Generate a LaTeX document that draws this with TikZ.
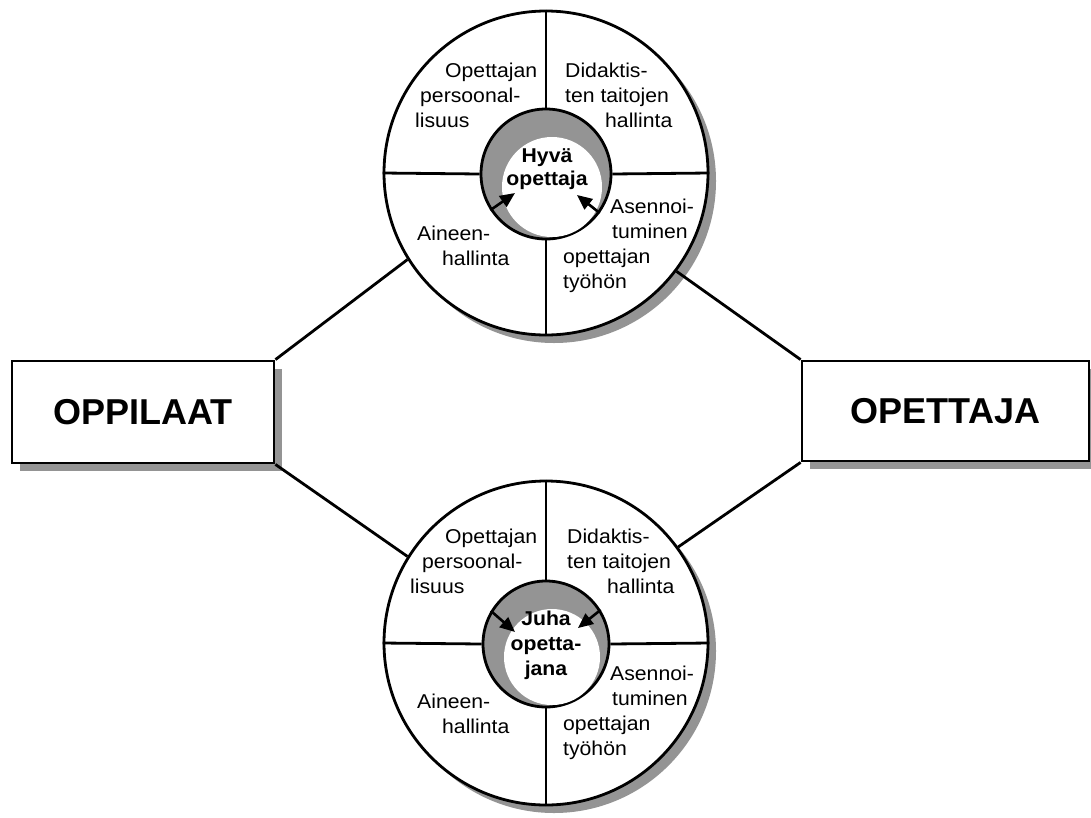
\documentclass[tikz,border=0pt]{standalone}
\usepackage{fontspec}
\setmainfont{Liberation Sans}
\newfontfamily\lblfont[FakeStretch=1.06]{Liberation Sans}
\usetikzlibrary{arrows.meta,shadows,calc}
\tikzset{
  outline/.style={draw=black, line width=2.8pt},
  shade gray/.style={drop shadow={shadow xshift=8pt, shadow yshift=-8pt, opacity=1, fill=black!42}},
  boxnode/.style={outline, fill=white, inner sep=0pt, shade gray,
    font=\fontsize{36}{40}\selectfont\bfseries},
  ring/.style={circle, outline, fill=white, inner sep=0pt, minimum size=324pt, shade gray},
  hub/.style={circle, outline, fill=black!42, inner sep=0pt},
  hubwhite/.style={fill=white},
  lbl/.style={inner sep=0pt, anchor=north west, align=left,
    font=\lblfont\fontsize{20}{25}\selectfont},
  ctr/.style={inner sep=0pt, anchor=north, align=center,
    font=\lblfont\bfseries\fontsize{20}{23}\selectfont},
  arr/.style={line width=2.6pt, -{Triangle[length=15pt,width=13pt]}},
  link/.style={line width=2.8pt},
}
\begin{document}
\begin{tikzpicture}[x=1pt,y=-1pt]
\useasboundingbox (0,0) rectangle (1091,817);
\fill[white] (0,0) rectangle (1091,817);

% boxes
\node[boxnode, minimum width=262pt, minimum height=102pt] (oppilaat) at (143,412) {OPPILAAT};
\node[boxnode, minimum width=287pt, minimum height=100pt] (opettaja) at (945.5,411) {OPETTAJA};

% top circle
\node[ring] (topc) at (546,173) {};
\node[hub, minimum size=130pt] (topi) at (546,174) {};
\fill[hubwhite] ($(topi.center)+(6,13)$) circle (50pt);
\draw[link] (topc.north) -- (topi.north);
\draw[link] (topc.south) -- (topi.south);
\draw[link] (topc.west) -- (topi.west);
\draw[link] (topc.east) -- (topi.east);

% bottom circle
\node[ring] (botc) at (546,643) {};
\node[hub, minimum size=126pt] (boti) at (546,644) {};
\fill[hubwhite] ($(boti.center)+(6,13)$) circle (48pt);
\draw[link] (botc.north) -- (boti.north);
\draw[link] (botc.south) -- (boti.south);
\draw[link] (botc.west) -- (boti.west);
\draw[link] (botc.east) -- (boti.east);

% connectors
\draw[link] (oppilaat.north east) -- (topc.212.8);
\draw[link] (opettaja.north west) -- (topc.323.2);
\draw[link] (oppilaat.south east) -- (botc.148.7);
\draw[link] (opettaja.south west) -- (botc.36.2);

% top circle texts
\node[lbl] (t-ul) at (415,63) {\hspace*{30pt}Opettajan\\\hspace*{5pt}persoonal-\\lisuus};
\node[lbl] (t-ur) at (565,63) {Didaktis-\\ten taitojen\\\hspace*{40pt}hallinta};
\node[lbl] (t-ll) at (417,226) {Aineen-\\\hspace*{25pt}hallinta};
\node[lbl] (t-lr) at (563,199) {\hspace*{47pt}Asennoi-\\\hspace*{49pt}tuminen\\opettajan\\työhön};
\node[ctr] (t-c) at (547,148) {Hyvä\\opettaja};

% bottom circle texts
\node[lbl] (b-ul) at (410,529) {\hspace*{35pt}Opettajan\\\hspace*{12pt}persoonal-\\lisuus};
\node[lbl] (b-ur) at (567,529) {Didaktis-\\ten taitojen\\\hspace*{40pt}hallinta};
\node[lbl] (b-ll) at (417,694) {Aineen-\\\hspace*{25pt}hallinta};
\node[lbl] (b-lr) at (563,666) {\hspace*{47pt}Asennoi-\\\hspace*{49pt}tuminen\\opettajan\\työhön};
\node[ctr, font=\lblfont\bfseries\fontsize{20}{25}\selectfont] (b-c) at (546,611) {Juha\\opetta-\\jana};

% arrows
\coordinate (tl-tip) at (515,193);
\coordinate (tr-tip) at (577,195);
\coordinate (bl-tip) at (515,632);
\coordinate (br-tip) at (578,628);
\draw[arr] (topi.213) -- (tl-tip);
\draw[arr] (topi.324) -- (tr-tip);
\draw[arr] (boti.149) -- (bl-tip);
\draw[arr] (boti.32) -- (br-tip);
\end{tikzpicture}
\end{document}
